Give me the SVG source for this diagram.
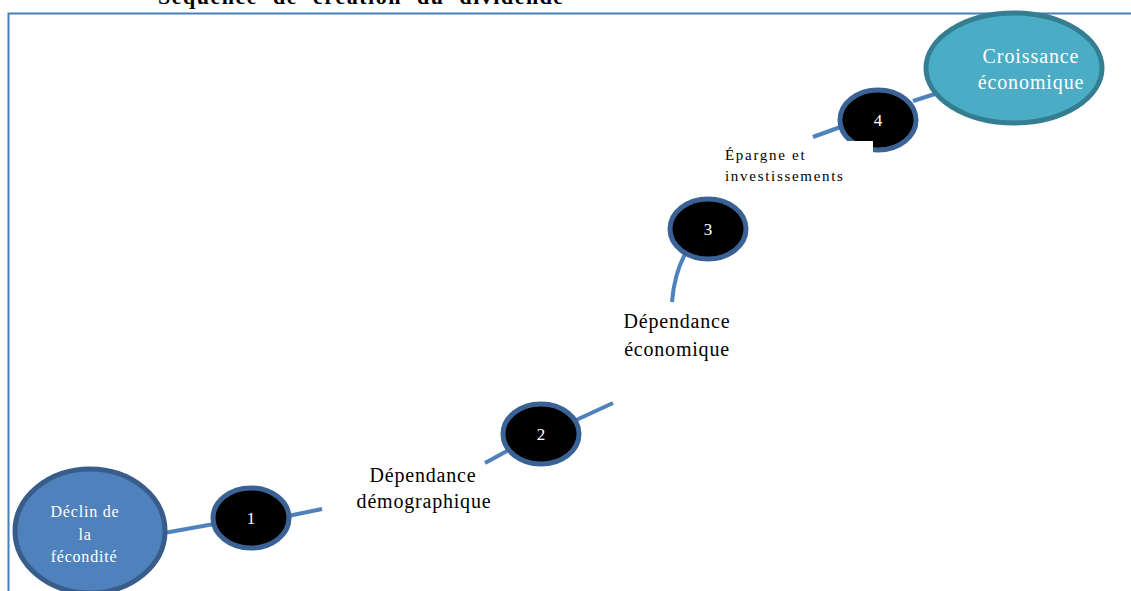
<svg xmlns="http://www.w3.org/2000/svg" width="1131" height="591" viewBox="0 0 1131 591">
<style>
.t{font-family:"Liberation Serif","Times New Roman",serif}
.num{font-family:"Liberation Serif",serif;font-size:17px;fill:#fff;text-anchor:middle}
.step{fill:#000;stroke:#3b6294;stroke-width:5}
.conn{stroke:#4f81bd;stroke-width:4;fill:none}
.lbl{font-family:"Liberation Serif",serif;font-size:20px;letter-spacing:0.8px;fill:#000;text-anchor:middle}
</style>
<rect width="1131" height="591" fill="#fff"/>
<text class="t" x="158" y="4" font-size="22" font-weight="bold" letter-spacing="1.5" word-spacing="8">Séquence  de  création  du dividende</text>
<path d="M8.5 591V13.5H1131" fill="none" stroke="#4a7ebb" stroke-width="2"/>
<g id="connectors">
<path class="conn" d="M164 533L214 524"/>
<path class="conn" d="M288 516L322 509"/>
<path class="conn" d="M485 463L507 451"/>
<path class="conn" d="M574 421L613 403"/>
<path class="conn" d="M672 302Q674 275 685 254"/>
<path class="conn" d="M813 137L846 125"/>
<path class="conn" d="M913 101L938 93"/>
</g>
<g id="n0"><ellipse cx="90" cy="531" rx="75" ry="62" fill="#4f81bd" stroke="#385d8a" stroke-width="5"/>
<text class="t" font-size="16" letter-spacing="0.8" fill="#fff" text-anchor="middle"><tspan x="85" y="517">Déclin de</tspan><tspan x="85" y="540">la</tspan><tspan x="84" y="562">fécondité</tspan></text></g>
<g id="n1"><ellipse class="step" cx="251" cy="518" rx="38" ry="30"/><text class="num" x="251" y="524">1</text></g>
<g id="n2"><ellipse class="step" cx="541" cy="434" rx="38" ry="30"/><text class="num" x="541" y="440">2</text></g>
<g id="n3"><ellipse class="step" cx="708" cy="229" rx="38" ry="30"/><text class="num" x="708" y="235">3</text></g>
<g id="n4"><ellipse class="step" cx="878" cy="120" rx="38" ry="30"/><text class="num" x="878" y="126">4</text></g>
<g id="n5"><ellipse cx="1014" cy="68" rx="88" ry="55" fill="#4bacc6" stroke="#357d91" stroke-width="5"/>
<text class="t" font-size="20" letter-spacing="0.9" fill="#fff" text-anchor="middle"><tspan x="1031" y="63">Croissance</tspan><tspan x="1031" y="89">économique</tspan></text></g>
<g id="l1"><text class="lbl"><tspan x="423" y="482">Dépendance</tspan><tspan x="424" y="508">démographique</tspan></text></g>
<g id="l2"><text class="lbl"><tspan x="677" y="328">Dépendance</tspan><tspan x="677" y="356">économique</tspan></text></g>
<g id="l3"><rect x="718" y="141" width="155" height="46" fill="#fff"/>
<text class="t" font-size="15" fill="#000" letter-spacing="1.7"><tspan x="725" y="160">Épargne et</tspan><tspan x="725" y="181">investissements</tspan></text></g>
</svg>
